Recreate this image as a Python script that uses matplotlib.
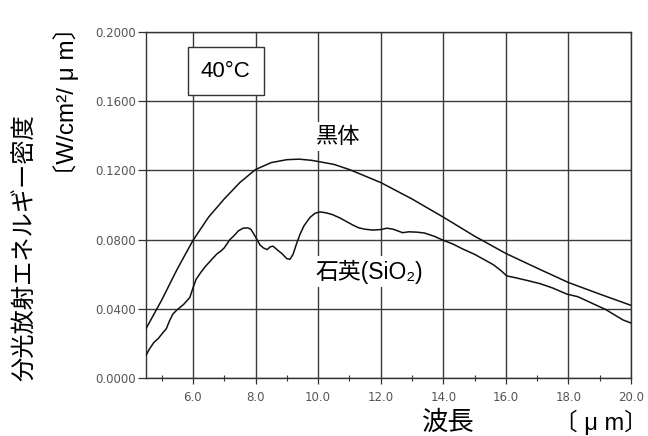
import matplotlib
matplotlib.use("Agg")
import matplotlib.pyplot as plt
from matplotlib.ticker import MultipleLocator

# Data
bb_x = [4.5, 5.0, 5.5, 6.0, 6.5, 7.0, 7.5, 8.0, 8.5, 9.0, 9.4, 9.8, 10.5, 11.0, 12.0,
        13.0, 14.0, 15.0, 16.0, 17.0, 18.0, 19.0, 20.0]
bb_y = [0.0285, 0.045, 0.063, 0.0795, 0.093, 0.1035, 0.1130, 0.1205, 0.1245, 0.1262,
        0.1265, 0.1258, 0.1235, 0.1205, 0.1130, 0.1035, 0.0930, 0.0820, 0.0720, 0.0635,
        0.0552, 0.0485, 0.0420]

q_x = [4.5, 4.6, 4.75, 4.9, 5.04, 5.15, 5.25, 5.36, 5.5, 5.7, 5.9, 6.0, 6.1, 6.25, 6.4,
       6.6, 6.77, 6.9, 7.0, 7.18, 7.3, 7.45, 7.6, 7.75, 7.85, 7.92, 8.0, 8.14, 8.25, 8.37,
       8.47, 8.56, 8.7, 8.85, 9.0, 9.1, 9.2, 9.3, 9.42, 9.55, 9.74, 9.9, 10.06, 10.25,
       10.45, 10.7, 10.9, 11.1, 11.3, 11.5, 11.75, 12.0, 12.2, 12.4, 12.7, 12.9, 13.16,
       13.4, 13.7, 13.99, 14.3, 14.63, 15.0, 15.3, 15.6, 15.85, 16.03, 16.3, 16.77, 17.1,
       17.5, 17.95, 18.3, 18.6, 18.9, 19.2, 19.5, 19.75, 20.0]
q_y = [0.0130, 0.0165, 0.0205, 0.0230, 0.0262, 0.0285, 0.0330, 0.0370, 0.0395, 0.0425,
       0.0465, 0.0520, 0.0570, 0.0610, 0.0645, 0.0685, 0.0718, 0.0735, 0.0752, 0.0800,
       0.0820, 0.0850, 0.0866, 0.0868, 0.0860, 0.0840, 0.0815, 0.0770, 0.0752, 0.0742,
       0.0758, 0.0762, 0.0740, 0.0718, 0.0690, 0.0686, 0.0715, 0.0770, 0.0830, 0.0880,
       0.0928, 0.0952, 0.0960, 0.0955, 0.0945, 0.0925, 0.0905, 0.0885, 0.0868, 0.0860,
       0.0855, 0.0858, 0.0866, 0.0860, 0.0840, 0.0845, 0.0843, 0.0838, 0.0820, 0.0797,
       0.0775, 0.0745, 0.0715, 0.0685, 0.0655, 0.0620, 0.0590, 0.0580, 0.0560, 0.0545,
       0.0520, 0.0485, 0.0470, 0.0445, 0.0420, 0.0395, 0.0362, 0.0335, 0.0318]

x_major = [6, 8, 10, 12, 14, 16, 18, 20]
x_labels = ["6.0", "8.0", "10.0", "12.0", "14.0", "16.0", "18.0", "20.0"]
y_major = [0.0, 0.04, 0.08, 0.12, 0.16, 0.20]
y_labels = ["0.0000", "0.0400", "0.0800", "0.1200", "0.1600", "0.2000"]

plt.rcParams['font.family'] = ['Noto Sans CJK JP', 'DejaVu Sans']
latin_cjk = ['Liberation Sans', 'Noto Sans CJK JP', 'DejaVu Sans']

fig = plt.figure(figsize=(6.48, 4.36), dpi=100)
ax = fig.add_axes([146/648, 1 - 378/436, (631 - 146)/648, (378 - 32)/436])

ax.set_xlim(4.5, 20.0)
ax.set_ylim(0.0, 0.2)

ax.set_xticks(x_major)
ax.set_xticklabels(x_labels, fontsize=8.5, color="#555555", family=["DejaVu Sans"])
ax.set_yticks(y_major)
ax.set_yticklabels(y_labels, fontsize=8.5, color="#555555", family=["DejaVu Sans"])
ax.xaxis.set_minor_locator(MultipleLocator(1.0))
ax.tick_params(axis="x", which="major", direction="out", length=4, width=0.9, color="#333333", pad=5)
ax.tick_params(axis="x", which="minor", direction="inout", length=4, width=0.8, color="#333333")
ax.tick_params(axis="y", which="major", direction="out", length=6, width=0.9, color="#333333", pad=1)

ax.grid(True, which="major", color="#3a3a3a", linewidth=1.0)
ax.set_axisbelow(True)
for s in ax.spines.values():
    s.set_color("#333333")
    s.set_linewidth(1.0)

ax.plot(bb_x, bb_y, color="#111111", linewidth=1.1, zorder=3)
ax.plot(q_x, q_y, color="#111111", linewidth=1.1, zorder=3)

ax.text(7.05, 0.1773, "40°C", fontsize=16, ha="center", va="center", zorder=5,
        family=["Liberation Sans", "DejaVu Sans"],
        bbox=dict(boxstyle="square,pad=0.6", facecolor="white", edgecolor="#333333", linewidth=1.0))
ax.text(10.63, 0.1395, "黒体", fontsize=16, ha="center", va="center", zorder=4,
        bbox=dict(boxstyle="square,pad=0.15", facecolor="white", edgecolor="none"))
ax.text(11.64, 0.0615, "石英(SiO₂)", fontsize=16.5, ha="center", va="center", zorder=4,
        family=latin_cjk,
        bbox=dict(boxstyle="square,pad=0.15", facecolor="white", edgecolor="none"))

fig.text(25/648, 1 - 248/436, "分光放射エネルギー密度", rotation=90, fontsize=17.5,
         ha="center", va="center")
fig.text(66/648, 1 - 102/436, "〔W/cm²/ μ m〕", rotation=90, fontsize=17.5,
         ha="center", va="center", family=latin_cjk)
fig.text(448/648, 1 - 422/436, "波長", fontsize=19, ha="center", va="center")
fig.text(601/648, 1 - 422/436, "〔 μ m〕", fontsize=17, ha="center", va="center",
         family=latin_cjk)

fig.savefig("out.png", dpi=100, facecolor="white")
